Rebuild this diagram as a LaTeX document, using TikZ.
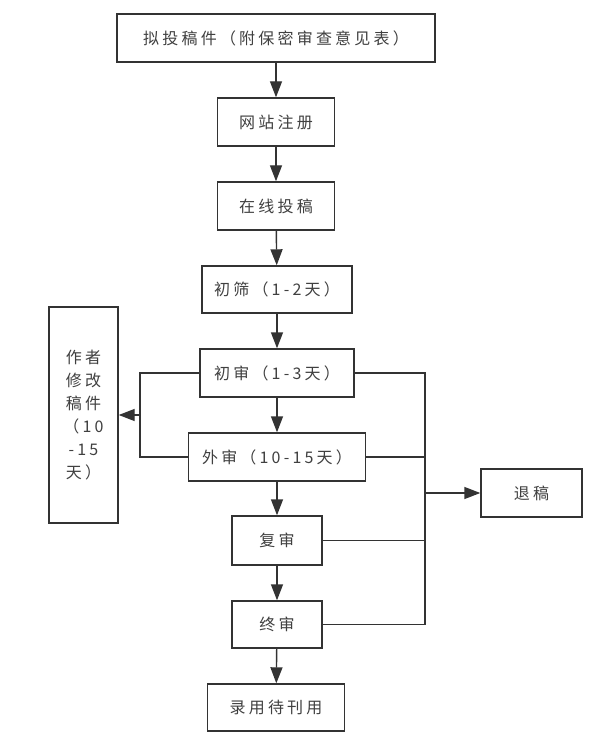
\documentclass[tikz,border=0pt]{standalone}
\usepackage{fontspec}
\newfontfamily\cjkfont{Noto Sans CJK SC}[LetterSpace=20]
\usepackage{xcolor}
\definecolor{ink}{HTML}{333333}
\definecolor{textgray}{HTML}{404040}
\usepackage{tikz}
\usetikzlibrary{arrows.meta,positioning}
\tikzset{
  every picture/.style={line width=1.4pt},
  box/.style={draw=ink, fill=white, align=center, inner sep=0pt, text=textgray,
    font=\cjkfont\fontsize{16}{23}\selectfont, minimum width=#1, minimum height=48pt},
  box/.default=117pt,
  arrow/.style={-{Triangle[length=16pt,width=12pt]}, draw=ink},
  link/.style={draw=ink},
}

\begin{document}
\begin{tikzpicture}[x=1pt, y=-1pt]
  \useasboundingbox (0,0) rectangle (597,738);
  \node[box=318pt] (draft) at (276,38) {拟投稿件（附保密审查意见表）};
  \node[box=117pt] (register) at (276,122) {网站注册};
  \node[box=117pt] (submit) at (276,206) {在线投稿};
  \node[box=150pt, minimum height=47pt] (screen) at (277,289.5) {初筛（1-2天）};
  \node[box=154pt] (first) at (277,373) {初审（1-3天）};
  \node[box=177pt] (outside) at (277,457) {外审（10-15天）};
  \node[box=90pt, minimum height=49pt] (second) at (277,540.5) {复审};
  \node[box=90pt, minimum height=47pt] (final) at (277,624.5) {终审};
  \node[box=137pt, minimum height=47pt] (accept) at (276,707.5) {录用待刊用};
  \node[box=69pt, minimum height=216pt] (revise) at (83.5,415) {作者\\修改\\稿件\\（10\\-15\\天）};
  \node[box=101pt] (reject) at (531.5,493) {退稿};
  \coordinate (lbus) at (140,415);
  \coordinate (rbus) at (425,493);
  \draw[arrow] (draft) -- (register);
  \draw[arrow] (register) -- (submit);
  \draw[arrow] (submit) -- (screen);
  \draw[arrow] (screen) -- (first);
  \draw[arrow] (first) -- (outside);
  \draw[arrow] (outside) -- (second);
  \draw[arrow] (second) -- (final);
  \draw[arrow] (final) -- (accept);
  \draw[link] (first.west) -| (lbus);
  \draw[link] (outside.west) -| (lbus);
  \draw[arrow] (lbus) -- (revise);
  \draw[link] (first.east) -| (rbus);
  \draw[link] (outside.east) -| (rbus);
  \draw[link] (second.east) -| (rbus);
  \draw[link] (final.east) -| (rbus);
  \draw[arrow] (rbus) -- (reject);
\end{tikzpicture}
\end{document}
